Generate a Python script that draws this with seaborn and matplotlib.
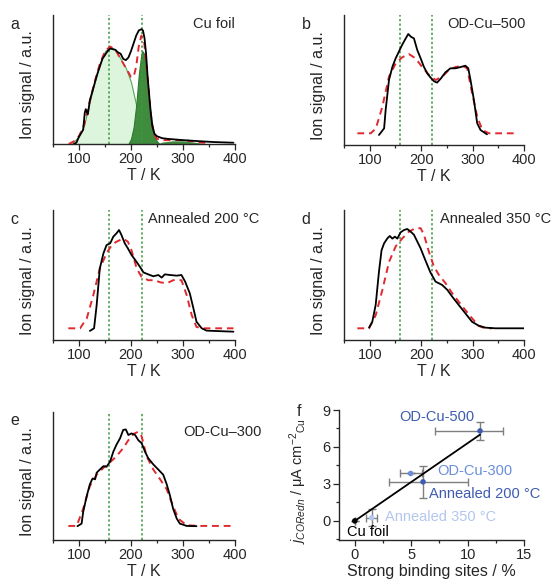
import numpy as np
import pandas as pd
import matplotlib
matplotlib.use("Agg")
import matplotlib.pyplot as plt
import seaborn as sns
from matplotlib.ticker import MultipleLocator

# --- TPD data (normalised ion signal, 0 = baseline, 1 = top of axes) ---
a_exp_T = [90, 95, 100, 105, 108, 111, 113, 117, 121, 128, 135, 140, 145, 150, 155, 160, 165, 170, 175,
           180, 185, 190, 195, 200, 205, 210, 215, 220, 223, 226, 229, 232, 235, 238, 241, 245, 250,
           260, 270, 300, 330, 360, 397]
a_exp_y = [0.0, 0.01, 0.057, 0.09, 0.11, 0.24, 0.27, 0.23, 0.34, 0.44, 0.54, 0.60, 0.66, 0.69, 0.72, 0.74,
           0.735, 0.73, 0.71, 0.70, 0.66, 0.65, 0.67, 0.72, 0.78, 0.84, 0.88, 0.89, 0.88, 0.82, 0.70, 0.52,
           0.38, 0.24, 0.14, 0.08, 0.06, 0.045, 0.04, 0.03, 0.022, 0.015, 0.01]
a_fit_T = [80, 90, 100, 110, 120, 130, 140, 150, 160, 170, 180, 190, 200, 205, 210, 215, 220, 225, 230,
           235, 240, 245, 250, 260, 280, 300, 320, 340, 350]
a_fit_y = [0.0, 0.02, 0.06, 0.15, 0.32, 0.48, 0.62, 0.72, 0.755, 0.73, 0.66, 0.59, 0.52, 0.52, 0.60, 0.76,
           0.84, 0.80, 0.60, 0.36, 0.17, 0.07, 0.04, 0.03, 0.03, 0.03, 0.02, 0.01, 0.005]
# fitted components for the Cu foil
a_low_T = [80, 90, 100, 110, 120, 130, 140, 150, 160, 170, 180, 190, 200, 210, 220, 230, 240, 250]
a_low_y = [0.0, 0.02, 0.06, 0.15, 0.32, 0.48, 0.62, 0.72, 0.755, 0.73, 0.66, 0.59, 0.48, 0.30, 0.14,
           0.05, 0.01, 0.0]
a_high_T = [195, 200, 205, 210, 215, 220, 222, 225, 230, 235, 240, 245, 250, 255]
a_high_y = [0.0, 0.04, 0.13, 0.30, 0.54, 0.70, 0.72, 0.70, 0.55, 0.33, 0.16, 0.06, 0.02, 0.0]
a_tail_T = [250, 260, 280, 300, 320, 340, 350]
a_tail_y = [0.0, 0.015, 0.025, 0.025, 0.015, 0.005, 0.0]

b_exp_T = [118, 128, 131, 137.5, 144, 150.5, 157, 163, 170, 175, 180, 186, 192.5, 199, 205.5, 212, 218,
           225, 231, 238, 247.5, 257, 267, 277, 286, 291.6, 296, 302.6, 309, 315.5, 325, 328]
b_exp_y = [0.077, 0.128, 0.27, 0.50, 0.60, 0.667, 0.72, 0.77, 0.82, 0.854, 0.833, 0.82, 0.73, 0.667, 0.60,
           0.55, 0.52, 0.49, 0.48, 0.51, 0.56, 0.59, 0.59, 0.60, 0.61, 0.59, 0.50, 0.346, 0.167, 0.115,
           0.09, 0.082]
b_fit_T = [76, 102, 112, 124.6, 137.5, 150.5, 163, 176, 189, 202, 215, 228, 241, 254, 267, 280, 289.6,
           299, 309, 319, 332, 383.5]
b_fit_y = [0.09, 0.09, 0.128, 0.295, 0.526, 0.628, 0.674, 0.70, 0.667, 0.60, 0.54, 0.50, 0.526, 0.577,
           0.60, 0.61, 0.59, 0.40, 0.218, 0.115, 0.09, 0.09]

c_exp_T = [121, 129, 134, 140, 147, 153, 160, 166, 172, 177, 181.4, 188, 194, 201, 210.9, 217, 224, 233,
           243, 252.6, 259, 265, 275, 288, 297, 304, 313, 320, 326, 336, 345.5, 397]
c_exp_y = [0.07, 0.09, 0.27, 0.55, 0.667, 0.73, 0.744, 0.795, 0.82, 0.846, 0.81, 0.744, 0.705, 0.654, 0.60,
           0.564, 0.52, 0.505, 0.49, 0.50, 0.48, 0.505, 0.50, 0.495, 0.50, 0.45, 0.36, 0.244, 0.14, 0.09,
           0.072, 0.064]
c_fit_T = [79.5, 102, 115, 127.6, 140, 153, 163, 172, 185, 194, 201, 211, 220, 233, 246, 256, 269, 281,
           297, 307, 316.7, 326, 340, 397]
c_fit_y = [0.09, 0.09, 0.167, 0.346, 0.55, 0.667, 0.73, 0.756, 0.78, 0.756, 0.69, 0.55, 0.487, 0.46, 0.46,
           0.444, 0.436, 0.46, 0.46, 0.346, 0.192, 0.10, 0.09, 0.09]

d_exp_T = [98.7, 105, 111.6, 118, 123, 128, 134, 139, 144, 149, 153.7, 160, 166.7, 173, 179.6, 186, 192.6,
           199, 205.5, 212, 218, 228, 234.6, 241, 251, 260.5, 273, 286, 299, 312, 325, 344.7, 400]
d_exp_y = [0.095, 0.14, 0.27, 0.526, 0.69, 0.744, 0.78, 0.80, 0.78, 0.795, 0.78, 0.828, 0.846, 0.854,
           0.833, 0.81, 0.756, 0.705, 0.64, 0.577, 0.52, 0.449, 0.436, 0.423, 0.385, 0.333, 0.27, 0.205,
           0.14, 0.11, 0.095, 0.09, 0.09]
d_fit_T = [76, 98.7, 111.6, 124.6, 137.5, 150.5, 163, 176, 189, 199, 205.5, 215, 225, 234.6, 247.6, 260.5,
           273, 286, 299, 312, 325, 338]
d_fit_y = [0.09, 0.09, 0.19, 0.385, 0.60, 0.72, 0.78, 0.833, 0.86, 0.86, 0.81, 0.68, 0.564, 0.50, 0.436,
           0.359, 0.295, 0.23, 0.167, 0.108, 0.09, 0.09]

e_exp_T = [97, 105, 108, 115, 121, 126, 131, 134, 140, 147, 153, 160, 166, 172, 179, 185, 190, 195, 201,
           208, 214, 220.5, 227, 233, 243, 252.6, 262, 268.6, 275, 281, 288, 294, 307, 326]
e_exp_y = [0.108, 0.128, 0.218, 0.346, 0.436, 0.48, 0.474, 0.526, 0.55, 0.577, 0.572, 0.615, 0.69, 0.744,
           0.795, 0.86, 0.864, 0.82, 0.833, 0.82, 0.78, 0.756, 0.69, 0.64, 0.59, 0.55, 0.51, 0.436, 0.346,
           0.244, 0.167, 0.128, 0.11, 0.108]
e_fit_T = [79.5, 95.5, 108, 121, 134, 147, 160, 172, 185, 195, 204.5, 214, 220.5, 230, 243, 256, 268.6,
           278, 291, 307, 333, 400]
e_fit_y = [0.11, 0.11, 0.244, 0.423, 0.51, 0.564, 0.608, 0.654, 0.718, 0.78, 0.828, 0.846, 0.81, 0.654,
           0.55, 0.474, 0.397, 0.295, 0.167, 0.115, 0.11, 0.11]

panel_tags = ["a", "b", "c", "d", "e"]
panel_names = ["Cu foil", "OD-Cu\u2013500", "Annealed 200 \u00b0C", "Annealed 350 \u00b0C", "OD-Cu\u2013300"]
peak_T = [158, 222]

# --- panel f data ---
samples = ["Cu foil", "Annealed 350 \u00b0C", "OD-Cu-300", "Annealed 200 \u00b0C", "OD-Cu-500"]
sites = [0.0, 1.5, 4.95, 6.05, 11.1]
sites_lo = [0.0, 0.5, 0.95, 3.0, 4.0]
sites_hi = [0.0, 0.5, 1.0, 4.0, 2.0]
j_red = [0.0, 0.25, 3.85, 3.17, 7.3]
j_err = [0.0, 0.7, 0.0, 1.3, 0.75]
fit_x = [0.0, 11.1]
fit_y = [0.0, 7.0]

colors = {"Cu foil": "black", "Annealed 350 \u00b0C": "#b3c6ee", "OD-Cu-300": "#6a8ddb",
          "Annealed 200 \u00b0C": "#3d5bb0", "OD-Cu-500": "#3d5bb0"}

sns.set_style("ticks")
plt.rcParams["font.family"] = ["Liberation Sans", "DejaVu Sans"]
plt.rcParams["mathtext.fontset"] = "custom"
plt.rcParams["mathtext.rm"] = "Liberation Sans"
plt.rcParams["mathtext.it"] = "Liberation Sans:italic"

fig = plt.figure(figsize=(5.52, 5.86), dpi=100)
W, H = 552, 586


def box(l, t, r, b):
    return [l / W, 1 - b / H, (r - l) / W, (b - t) / H]


rects = [box(53, 15, 235, 144), box(344, 15, 524, 145), box(53, 210, 235, 340),
         box(344, 210, 524, 340), box(53, 412, 235, 540)]
exp_sets = [(a_exp_T, a_exp_y), (b_exp_T, b_exp_y), (c_exp_T, c_exp_y), (d_exp_T, d_exp_y), (e_exp_T, e_exp_y)]
fit_sets = [(a_fit_T, a_fit_y), (b_fit_T, b_fit_y), (c_fit_T, c_fit_y), (d_fit_T, d_fit_y), (e_fit_T, e_fit_y)]
# sample name placement (axes fraction) and alignment
name_pos = [(0.885, 0.93, "center"), (0.79, 0.93, "center"), (0.83, 0.93, "center"),
            (0.535, 0.93, "left"), (0.93, 0.84, "center")]

for i, rect in enumerate(rects):
    ax = fig.add_axes(rect)
    if i == 0:
        ax.fill_between(a_low_T, a_low_y, color="#dcf5dc", edgecolor="#5aa35a", linewidth=0.8, zorder=1)
        ax.fill_between(a_high_T, a_high_y, color="#3f8c3f", edgecolor="#2f7a2f", linewidth=0.8, zorder=1)
        ax.fill_between(a_tail_T, a_tail_y, color="#3f8c3f", linewidth=0, zorder=1)
    for t in peak_T:
        ax.axvline(t, color="#3c9a3c", linestyle=(0, (1.5, 1.5)), linewidth=1.1, zorder=2)
    fdf = pd.DataFrame({"T": fit_sets[i][0], "y": fit_sets[i][1]})
    edf = pd.DataFrame({"T": exp_sets[i][0], "y": exp_sets[i][1]})
    sns.lineplot(data=fdf, x="T", y="y", ax=ax, color="#e0292e", linewidth=1.4,
                 linestyle=(0, (3.5, 2.5)), zorder=3, sort=False)
    sns.lineplot(data=edf, x="T", y="y", ax=ax, color="black", linewidth=1.3, zorder=4, sort=False)
    ax.set_xlim(50, 400)
    ax.set_ylim(0, 1)
    ax.set_yticks([])
    ax.xaxis.set_minor_locator(MultipleLocator(50))
    ax.set_xticks([100, 200, 300, 400])
    ax.tick_params(axis="x", which="major", length=4, width=0.9, labelsize=10.5, pad=2)
    ax.tick_params(axis="x", which="minor", length=2.5, width=0.9)
    ax.set_xlabel("T / K", fontsize=11.5, labelpad=1)
    ax.set_ylabel("Ion signal / a.u.", fontsize=11.5)
    ax.yaxis.set_label_coords(-0.10, 0.46)
    sns.despine(ax=ax)
    for s in ["left", "bottom"]:
        ax.spines[s].set_linewidth(1.0)
    nx, ny, nha = name_pos[i]
    ax.text(nx, ny, panel_names[i], transform=ax.transAxes, ha=nha, va="center", fontsize=10.5)
    ax.text(-0.21, 0.93, panel_tags[i], transform=ax.transAxes, ha="center", va="center", fontsize=11.5)

# --- panel f ---
axf = fig.add_axes(box(339, 410, 524, 540))
sns.lineplot(x=fit_x, y=fit_y, ax=axf, color="black", linewidth=1.3, zorder=2)
for k, name in enumerate(samples):
    axf.errorbar(sites[k], j_red[k], xerr=[[sites_lo[k]], [sites_hi[k]]], yerr=j_err[k],
                 fmt="none", ecolor="#7f7f7f", elinewidth=1.0, capsize=3, capthick=1.0, zorder=1)
pdf = pd.DataFrame({"x": sites, "y": j_red, "s": samples})
sns.scatterplot(data=pdf, x="x", y="y", hue="s", palette=colors, ax=axf, s=16,
                edgecolor="none", legend=False, zorder=3)
label_pos = {"Cu foil": (1.17, -0.87), "Annealed 350 \u00b0C": (7.6, 0.3), "OD-Cu-300": (10.6, 4.07),
             "Annealed 200 \u00b0C": (11.5, 2.2), "OD-Cu-500": (7.3, 8.4)}
for name in samples:
    lx, ly = label_pos[name]
    axf.text(lx, ly, name, color=colors[name], ha="center", va="center", fontsize=10.5)
axf.set_xlim(-1.4, 15)
axf.set_ylim(-1.55, 9)
axf.set_xticks([0, 5, 10, 15])
axf.set_yticks([0, 3, 6, 9])
axf.xaxis.set_minor_locator(MultipleLocator(2.5))
axf.yaxis.set_minor_locator(MultipleLocator(1.5))
axf.tick_params(which="major", length=4, width=0.9, labelsize=10.5, pad=2)
axf.tick_params(which="minor", length=2.5, width=0.9)
axf.set_xlabel("Strong binding sites / %", fontsize=11.5, labelpad=1)
axf.set_ylabel("$j_{CORedn}$ / \u03bcA cm$^{-2}$$_{\\mathrm{Cu}}$", fontsize=10.5)
axf.yaxis.set_label_coords(-0.16, 0.45)
sns.despine(ax=axf)
for s in ["left", "bottom"]:
    axf.spines[s].set_linewidth(1.0)
axf.text(-0.215, 0.99, "f", transform=axf.transAxes, ha="center", va="center", fontsize=11.5)

fig.savefig("out.png", dpi=100)
